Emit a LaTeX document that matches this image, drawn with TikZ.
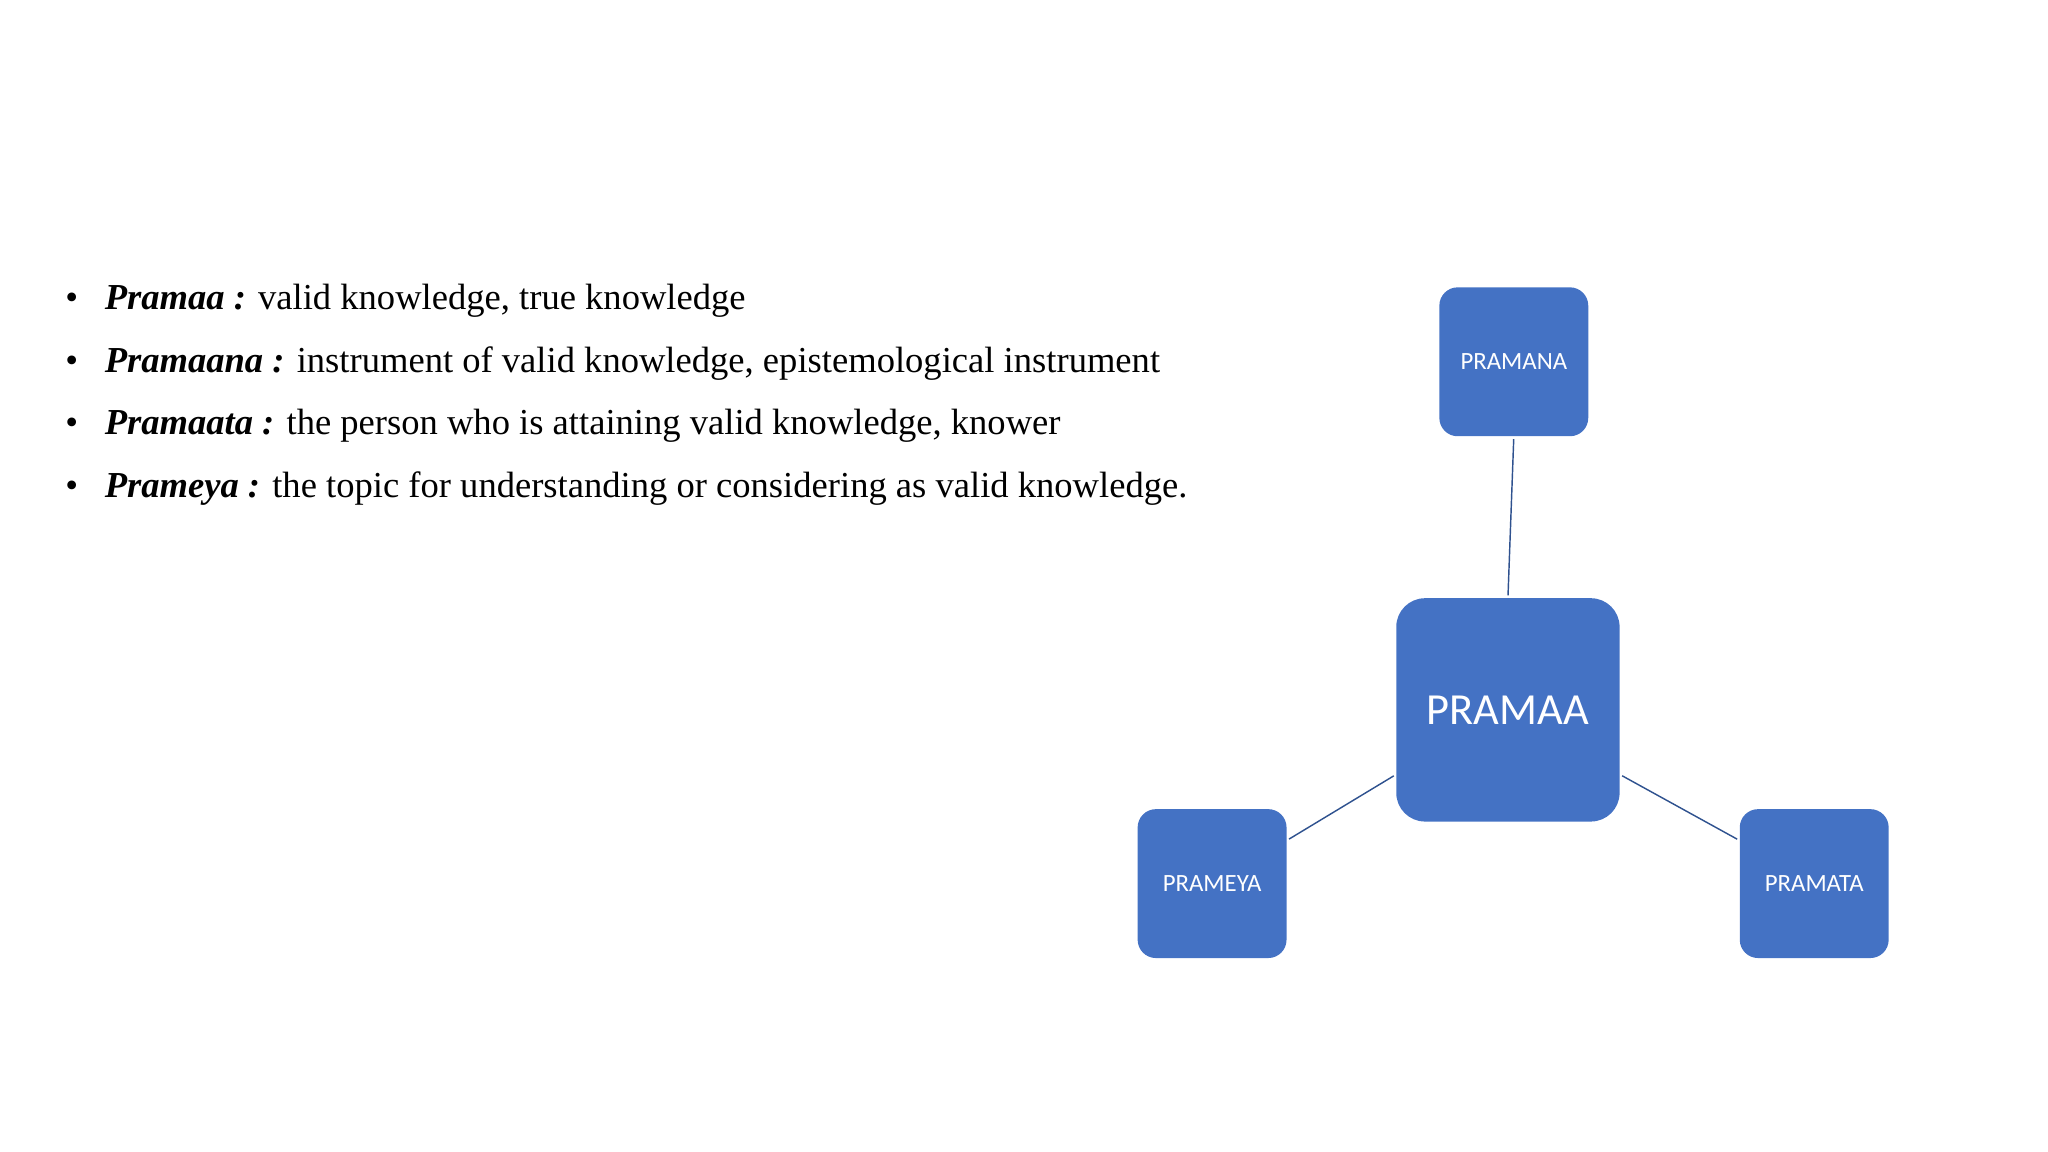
\documentclass[tikz,border=0pt]{standalone}
\usepackage{fontspec}
\setmainfont{Liberation Serif}
\newfontfamily\boxfont{Carlito}
\definecolor{boxblue}{HTML}{4472C4}
\definecolor{lineblue}{HTML}{2F528F}
\begin{document}
\begin{tikzpicture}[x=1pt,y=-1pt,
  bx/.style={fill=boxblue,draw=none,rounded corners=14pt,text=white,font=\boxfont\fontsize{19}{22}\selectfont,minimum width=114pt,minimum height=114pt,inner sep=0pt},
  big/.style={bx,rounded corners=22pt,minimum width=171pt,minimum height=171pt,font=\boxfont\fontsize{34}{40}\selectfont},
  conn/.style={draw=lineblue,line width=1.1pt,shorten <=2pt,shorten >=2pt},
  item/.style={anchor=base west,inner sep=0pt,font=\fontsize{28}{32}\selectfont},
  bul/.style={anchor=base,inner sep=0pt,font=\fontsize{28}{32}\selectfont}]
\useasboundingbox (0,0) rectangle (1568,882);
\foreach \y/\n/\t [count=\i] in {237/Pramaa/{valid knowledge, true knowledge},285/Pramaana/{instrument of valid knowledge, epistemological instrument},333/Pramaata/{the person who is attaining valid knowledge, knower},381/Prameya/{the topic for understanding or considering as valid knowledge.}}{
  \node[bul] (b\i) at (55,\y) {•};
  \node[item] (t\i) at (80,\y) {\textbf{\textit{\n\ :}} \t};
}
\node[bx] (pramana) at (1159,277) {PRAMANA};
\node[big] (pramaa) at (1154.5,543.5) {PRAMAA};
\node[bx] (prameya) at (928,676.5) {PRAMEYA};
\node[bx] (pramata) at (1389,676.5) {PRAMATA};
\draw[conn] (pramana.south) -- (pramaa.north);
\draw[conn] (pramaa.210) -- (prameya.30);
\draw[conn] (pramaa.-30) -- (pramata.150);
\end{tikzpicture}
\end{document}
